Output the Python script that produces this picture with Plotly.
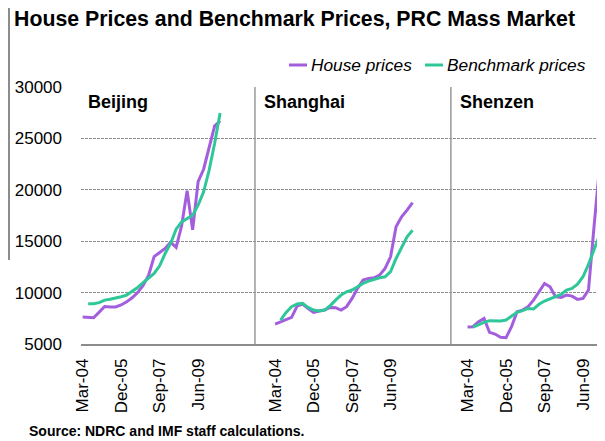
import plotly.graph_objects as go

# quarterly, Mar-04 .. Jun-10
quarters = ["Mar-04", "Jun-04", "Sep-04", "Dec-04", "Mar-05", "Jun-05", "Sep-05", "Dec-05",
            "Mar-06", "Jun-06", "Sep-06", "Dec-06", "Mar-07", "Jun-07", "Sep-07", "Dec-07",
            "Mar-08", "Jun-08", "Sep-08", "Dec-08", "Mar-09", "Jun-09", "Sep-09", "Dec-09",
            "Mar-10", "Jun-10"]
tick_labels = ["Mar-04", "Dec-05", "Sep-07", "Jun-09"]
cities = ["Beijing", "Shanghai", "Shenzen"]

beijing_house = [7620, 7600, 7550, 8100, 8650, 8600, 8600, 8800, 9100, 9500, 10000, 10700, 11700,
                 13500, 13900, 14300, 14900, 14400, 16500, 19900, 16100, 20800, 22000, 24000, 26200, 26700]
beijing_bench = [None, 8920, 8920, 9020, 9270, 9350, 9440, 9600, 9760, 10100, 10500, 10960, 11380,
                 11860, 12600, 13800, 14780, 16170, 16880, 17200, 17530, 18500, 19800, 21900, 24500, 27470]

shanghai_house = [6940, 7140, 7330, 7590, 8690, 8890, 8460, 8080, 8210, 8300, 8560, 8530, 8300,
                  8630, 9440, 10410, 11220, 11380, 11440, 11700, 12350, 13480, 16400, 17370, 18020, 18760]
shanghai_bench = [None, 7330, 8080, 8630, 8890, 8950, 8560, 8300, 8210, 8300, 8720, 9270, 9760,
                  10080, 10250, 10570, 10890, 11120, 11310, 11440, 11540, 12030, 13320, 14450, 15430, 16070]

shenzen_house = [6650, 6680, 7170, 7490, 6130, 5970, 5650, 5620, 6680, 8140, 8300, 8630, 9270,
                 10080, 10890, 10570, 9600, 9530, 9760, 9660, 9340, 9440, 10250, 16400, 22160, 22290]
shenzen_bench = [None, 6650, 6910, 7100, 7270, 7270, 7230, 7330, 7720, 8080, 8240, 8460, 8400,
                 8860, 9180, 9370, 9600, 9820, 10250, 10410, 10830, 11540, 12740, 14130, 15590, 15750]

house = [beijing_house, shanghai_house, shenzen_house]
bench = [beijing_bench, shanghai_bench, shenzen_bench]

purple = "#A35EDE"
green = "#2FC799"
gap = 35  # quarters between panel starts

# page body has an 8px margin, so the figure is 8px smaller than the window
W, H = 597, 433
L, T, B = 73, 79, 97
PW, PH = W - L, H - T - B


def px_x(p):  # figure pixel -> paper x
    return (p - L) / PW


def px_y(p):  # figure pixel -> paper y
    return (H - B - p) / PH


fig = go.Figure()
tickvals, ticktext = [], []
for i, city in enumerate(cities):
    xs = [i * gap + k for k in range(len(quarters))]
    fig.add_trace(go.Scatter(x=xs, y=house[i], mode="lines", name="House prices",
                             line=dict(color=purple, width=3), showlegend=False))
    fig.add_trace(go.Scatter(x=xs, y=bench[i], mode="lines", name="Benchmark prices",
                             line=dict(color=green, width=3), showlegend=False))
    for lab in tick_labels:
        tickvals.append(i * gap + quarters.index(lab))
        ticktext.append(lab)
    fig.add_annotation(x=i * gap + [0.6, -2.3, -1.7][i], y=28570, text="<b>%s</b>" % city,
                       xref="x", yref="y", xanchor="left", yanchor="middle", showarrow=False,
                       font=dict(size=18, color="black"))

# legend drawn by hand
for x0, col, name in [(281, purple, "House prices"), (417, green, "Benchmark prices")]:
    fig.add_shape(type="line", xref="paper", yref="paper", x0=px_x(x0), x1=px_x(x0 + 18),
                  y0=px_y(57), y1=px_y(57), line=dict(color=col, width=3))
    fig.add_annotation(text="<i>%s</i>" % name, xref="paper", yref="paper", x=px_x(x0 + 20),
                       y=px_y(57), xanchor="left", yanchor="middle", showarrow=False,
                       font=dict(size=17.3, color="black"))

# panel separators
for xv in [31.34, 66.97]:
    fig.add_shape(type="line", xref="x", yref="paper", x0=xv, x1=xv, y0=0, y1=1,
                  line=dict(color="#9a9a9a", width=1.5))
# frame edge on the left
fig.add_shape(type="line", xref="paper", yref="paper", x0=px_x(1), x1=px_x(1), y0=px_y(0), y1=px_y(252),
              line=dict(color="#8c8c8c", width=2))

fig.add_annotation(text="<b>Source: NDRC and IMF staff calculations.</b>", xref="paper", yref="paper",
                   x=px_x(19), y=px_y(422.5), xanchor="left", yanchor="middle", showarrow=False,
                   font=dict(size=14, color="black"))

fig.update_layout(
    width=W, height=H,
    margin=dict(l=L, r=0, t=T, b=B, autoexpand=False),
    paper_bgcolor="white", plot_bgcolor="white",
    font=dict(family="Liberation Sans, Arial, sans-serif", color="black"),
    title=dict(text="<b>House Prices and Benchmark Prices, PRC Mass Market</b>",
               x=6 / W, xanchor="left", xref="container", y=1 - 11 / H, yanchor="middle",
               yref="container", font=dict(size=21.3, color="black")),
    showlegend=False,
    xaxis=dict(range=[-0.3, 95.0], tickvals=tickvals, ticktext=ticktext, tickangle=-90,
               showgrid=False, zeroline=False, showline=True, linecolor="#8c8c8c", linewidth=1.5,
               ticks="", tickfont=dict(size=17), ticklabelstandoff=6, automargin=False),
    yaxis=dict(range=[5000, 30000], dtick=5000, tickformat="d", showgrid=True,
               gridcolor="#8c8c8c", gridwidth=1, griddash="3px,1px", zeroline=False,
               showline=False, ticks="", tickfont=dict(size=17), ticklabelstandoff=18,
               automargin=False),
)

fig.write_html("out.html")
